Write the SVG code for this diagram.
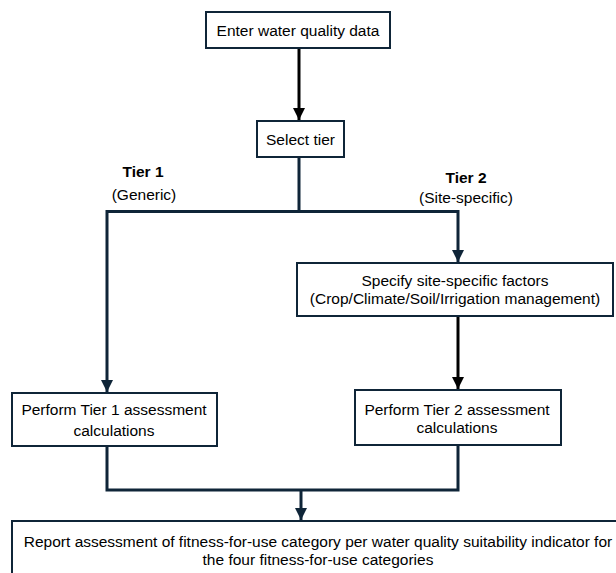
<svg xmlns="http://www.w3.org/2000/svg" width="616" height="573" viewBox="0 0 616 573">
<defs>
<style>
.box{fill:#fff;stroke:#0f2538;stroke-width:2}
.t{font-family:"Liberation Sans",Arial,sans-serif;font-size:15.5px;fill:#000;text-anchor:middle}
.b{font-weight:bold}
.c{fill:none;stroke:#0f2538;stroke-width:3}
.k{fill:none;stroke:#000;stroke-width:3}
</style>
<marker id="an" markerUnits="userSpaceOnUse" markerWidth="12" markerHeight="13" refX="12" refY="6" orient="auto" viewBox="0 0 12 12">
<path d="M0,0 L12,6 L0,12 z" fill="#0f2538"/>
</marker>
<marker id="ak" markerUnits="userSpaceOnUse" markerWidth="12" markerHeight="13" refX="12" refY="6" orient="auto" viewBox="0 0 12 12">
<path d="M0,0 L12,6 L0,12 z" fill="#000"/>
</marker>
</defs>
<rect width="616" height="573" fill="#fff"/>
<g id="connectors">
<path class="k" d="M299,49 V120" marker-end="url(#ak)"/>
<path class="c" d="M299,158 V211.5 H107 V392" marker-end="url(#an)"/>
<path class="c" d="M299,211.5 H458 V262" marker-end="url(#an)"/>
<path class="k" d="M458,317 V389" marker-end="url(#ak)"/>
<path class="c" d="M107,447 V490 H458 V446"/>
<path class="c" d="M301,490 V520" marker-end="url(#an)"/>
</g>
<g id="enter">
<rect class="box" x="206" y="12" width="184" height="36"/>
<text class="t" x="298" y="36">Enter water quality data</text>
</g>
<g id="select">
<rect class="box" x="257" y="121" width="87" height="36"/>
<text class="t" x="300.5" y="145">Select tier</text>
</g>
<g id="tier1-label">
<text class="t b" x="143" y="177">Tier 1</text>
<text class="t" x="144" y="200">(Generic)</text>
</g>
<g id="tier2-label">
<text class="t b" x="466" y="183">Tier 2</text>
<text class="t" x="466" y="203">(Site-specific)</text>
</g>
<g id="specify">
<rect class="box" x="297" y="263" width="316" height="53"/>
<text class="t" x="455" y="286">Specify site-specific factors</text>
<text class="t" x="455" y="304">(Crop/Climate/Soil/Irrigation management)</text>
</g>
<g id="tier1-calc">
<rect class="box" x="12" y="393" width="205" height="53"/>
<text class="t" x="114" y="415">Perform Tier 1 assessment</text>
<text class="t" x="114" y="436">calculations</text>
</g>
<g id="tier2-calc">
<rect class="box" x="355" y="390" width="206" height="55"/>
<text class="t" x="457" y="415">Perform Tier 2 assessment</text>
<text class="t" x="457" y="433">calculations</text>
</g>
<g id="report">
<rect class="box" x="12" y="521" width="620" height="70"/>
<text class="t" x="318" y="547">Report assessment of fitness-for-use category per water quality suitability indicator for</text>
<text class="t" x="318" y="565">the four fitness-for-use categories</text>
</g>
</svg>
